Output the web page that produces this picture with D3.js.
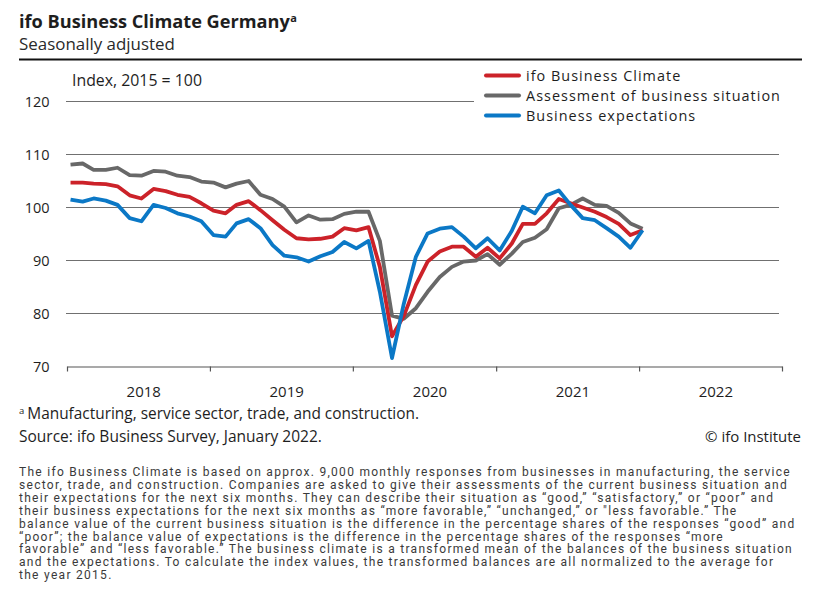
<!DOCTYPE html>
<html><head><meta charset="utf-8">
<script src="https://cdn.jsdelivr.net/npm/d3@7"></script>
<style>body{margin:0;background:#fff}</style>
</head><body>
<svg id="c" width="819" height="600"></svg>
<script>
// ---- data (monthly, Jan 2018 - Jan 2022) ----
const months = d3.range(49).map(i => new Date(2018, i, 10));
const climate = [
  104.7,104.7,104.5,104.4,104.0,102.3,101.7,103.5,103.1,102.4,102.0,100.8,
  99.4,98.9,100.5,101.2,99.5,97.6,95.8,94.2,94.0,94.1,94.5,96.1,
  95.7,96.3,88.8,75.7,79.5,85.4,89.8,91.7,92.6,92.6,90.7,92.4,
  90.4,93.2,96.9,96.9,98.9,101.6,100.8,100.0,99.2,98.2,96.9,94.8,
  95.7];
const situation = [
  108.1,108.3,107.1,107.1,107.5,106.1,106.0,106.9,106.75,106.0,105.75,104.9,
  104.7,103.8,104.5,105.0,102.4,101.6,100.15,97.2,98.5,97.7,97.8,98.8,
  99.2,99.2,93.7,79.6,79.0,81.0,84.1,86.9,88.8,89.8,90.0,91.2,
  89.2,91.3,93.5,94.3,95.9,99.85,100.5,101.7,100.5,100.3,99.0,97.0,
  96.0];
const expectations = [
  101.5,101.1,101.7,101.3,100.5,98.0,97.4,100.5,99.9,98.9,98.3,97.4,
  94.8,94.5,97.0,97.8,96.1,92.9,90.9,90.6,89.8,90.8,91.6,93.5,
  92.3,93.7,84.1,71.6,81.8,90.7,95.1,96.0,96.3,94.5,92.3,94.2,
  91.9,95.6,100.15,98.9,102.3,103.2,100.5,98.0,97.6,96.1,94.5,92.4,
  95.7];
const yTicks = [70, 80, 90, 100, 110, 120];
const years = [2018, 2019, 2020, 2021, 2022];
const seriesNames = ["ifo Business Climate", "Assessment of business situation", "Business expectations"];
const seriesColors = ["#cc2229", "#686868", "#0b78c6"];
const seriesValues = [climate, situation, expectations];
const title = "ifo Business Climate Germany";
const subtitle = "Seasonally adjusted";
const unitLabel = "Index, 2015 = 100";
const footnote = "Manufacturing, service sector, trade, and construction.";
const source = "Source: ifo Business Survey, January 2022.";
const copyright = "© ifo Institute";
const paragraph = [
  "The ifo Business Climate is based on approx. 9,000 monthly responses from businesses in manufacturing, the service",
  "sector, trade, and construction. Companies are asked to give their assessments of the current business situation and",
  "their expectations for the next six months. They can describe their situation as “good,” “satisfactory,” or “poor” and",
  "their business expectations for the next six months as “more favorable,” “unchanged,” or \"less favorable.” The",
  "balance value of the current business situation is the difference in the percentage shares of the responses “good” and",
  "“poor”; the balance value of expectations is the difference in the percentage shares of the responses “more",
  "favorable” and “less favorable.” The business climate is a transformed mean of the balances of the business situation",
  "and the expectations. To calculate the index values, the transformed balances are all normalized to the average for",
  "the year 2015."
];

// ---- layout ----
const svg = d3.select("#c");
const FONT = "'Open Sans', Lato, sans-serif";
const x = d3.scaleTime().domain([new Date(2018,0,1), new Date(2023,0,1)]).range([67, 782]);
const y = d3.scaleLinear().domain([70, 120]).range([366.5, 101.5]);
const txt = "#1e1e1e";

// scale a text's font-size so its width matches a target width
function fit(sel, target) {
  const n = sel.node();
  const fs = parseFloat(sel.attr("font-size"));
  const w = n.getComputedTextLength();
  sel.attr("font-size", (fs * target / w).toFixed(2));
  return sel;
}

// title
const t = svg.append("text").attr("x", 19).attr("y", 27.5)
  .attr("font-family", FONT).attr("font-weight", 700).attr("font-size", 17).attr("fill", txt).text(title);
fit(t, 271);
t.append("tspan").attr("font-size", 11).attr("dy", -6).attr("dx", 0.5).text("a");
fit(svg.append("text").attr("x", 19).attr("y", 49.5).attr("font-family", FONT)
  .attr("font-size", 15).attr("fill", "#2a2a2a").text(subtitle), 156);
svg.append("line").attr("x1", 19).attr("x2", 802).attr("y1", 59.5).attr("y2", 59.5)
  .attr("stroke", "#111").attr("stroke-width", 2);

// gridlines
svg.append("g").selectAll("line").data(yTicks.filter(d => d > 70)).join("line")
  .attr("x1", 66).attr("x2", d => d === 120 ? 474 : 779)
  .attr("y1", d => y(d)).attr("y2", d => y(d))
  .attr("stroke", "#707070").attr("stroke-width", 1.2);

// y labels
svg.append("g").selectAll("text").data(yTicks).join("text")
  .attr("x", 49.5).attr("y", d => y(d) + 5.5).attr("text-anchor", "end")
  .attr("font-family", FONT).attr("font-size", 14.5).attr("fill", txt).text(d => d);

fit(svg.append("text").attr("x", 72).attr("y", 86).attr("font-family", FONT)
  .attr("font-size", 14).attr("fill", txt).text(unitLabel), 130);

// x axis
const xAxis = d3.axisBottom(x).tickValues(years.map(yy => new Date(yy,0,1)).concat([new Date(2023,0,1)]))
  .tickSize(5).tickSizeOuter(0).tickFormat("");
const gx = svg.append("g").attr("transform", `translate(0,${y(70)})`).call(xAxis);
gx.select(".domain").attr("stroke", "#555").attr("stroke-width", 1.2);
gx.selectAll(".tick line").attr("stroke", "#555").attr("stroke-width", 1.2);
svg.append("g").selectAll("text").data(years).join("text")
  .attr("x", d => x(new Date(d, 6, 16))).attr("y", 397).attr("text-anchor", "middle")
  .attr("font-family", FONT).attr("font-size", 15).attr("fill", txt).text(d => d);

// lines
const line = d3.line().x((d, i) => x(months[i])).y(d => y(d));
const order = [1, 0, 2];
svg.append("g").selectAll("path").data(order).join("path")
  .attr("d", k => line(seriesValues[k])).attr("fill", "none")
  .attr("stroke", k => seriesColors[k]).attr("stroke-width", 3.8)
  .attr("stroke-linejoin", "round");

// legend
const lg = svg.append("g").selectAll("g").data(seriesNames).join("g")
  .attr("transform", (d, i) => `translate(486,${75.5 + i * 20})`);
lg.append("line").attr("x1", 0).attr("x2", 33).attr("stroke", (d, i) => seriesColors[i])
  .attr("stroke-width", 4).attr("stroke-linecap", "round");
const LFS = 14.4;
const lt = lg.append("text").attr("x", 40).attr("y", 5.5).attr("font-family", FONT).attr("font-size", LFS)
  .attr("fill", txt).text(d => d);
const lw = lt.nodes()[1].getComputedTextLength();
lt.attr("letter-spacing", ((255 - lw) / seriesNames[1].length).toFixed(3) + "px");

// footnotes
const fn = svg.append("text").attr("x", 19).attr("y", 419).attr("font-family", FONT)
  .attr("font-size", 14).attr("fill", txt);
fn.append("tspan").attr("font-size", 9.5).attr("dy", -5).text("a");
const fnt = fn.append("tspan").attr("dy", 5).attr("dx", 3).text(footnote);
const fw = fnt.node().getComputedTextLength();
fnt.attr("font-size", (14 * 392 / fw).toFixed(2));
fit(svg.append("text").attr("x", 19).attr("y", 442).attr("font-family", FONT)
  .attr("font-size", 14).attr("fill", txt).text(source), 303);
fit(svg.append("text").attr("x", 801).attr("y", 442).attr("text-anchor", "end").attr("font-family", FONT)
  .attr("font-size", 14).attr("fill", txt).text(copyright), 96);

// paragraph
const pg = svg.append("g").attr("font-family", "Roboto, sans-serif").attr("font-size", 12)
  .attr("fill", "#3a3a3a");
const pl = pg.selectAll("text").data(paragraph).join("text")
  .attr("x", 19).attr("y", (d, i) => 476 + i * 12.9).text(d => d);
const w0 = pl.node().getComputedTextLength();
const ls = (772 - w0) / paragraph[0].length;
pl.attr("letter-spacing", ls + "px");
</script>
</body></html>
